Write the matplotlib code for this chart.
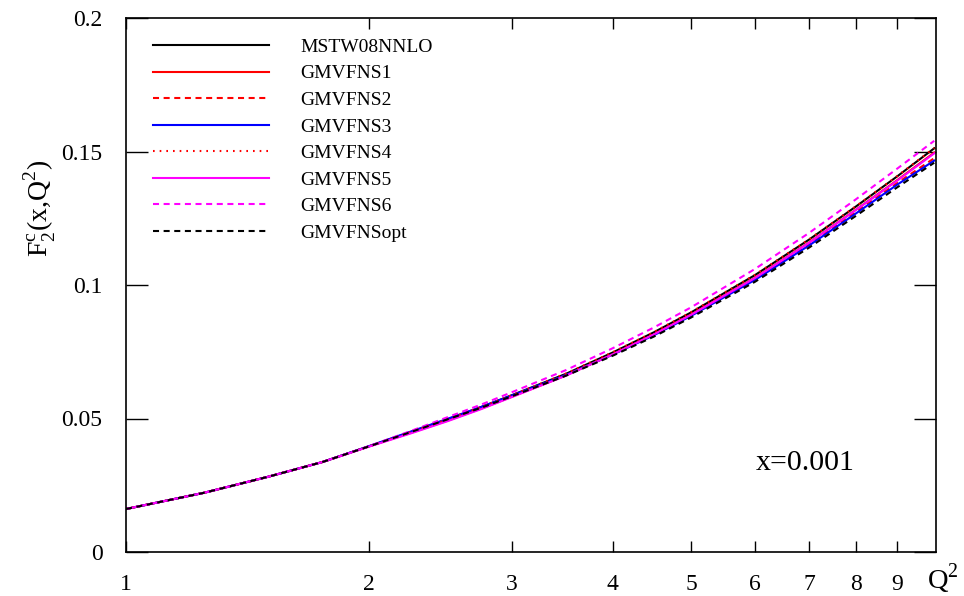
import numpy as np
import matplotlib
matplotlib.use('Agg')
import matplotlib.pyplot as plt
from matplotlib.ticker import FixedLocator, NullLocator

plt.rcParams['font.family'] = ['Liberation Serif', 'DejaVu Serif']
plt.rcParams['mathtext.fontset'] = 'custom'
plt.rcParams['mathtext.rm'] = 'Liberation Serif'

# Q^2 grid (GeV^2) and F2c values, x = 0.001
q2 = [1.0, 1.25, 1.5, 1.75, 2.0, 2.25, 2.5, 2.75, 3.0, 3.5, 4.0, 4.5, 5.0, 6.0, 7.0, 8.0, 9.0, 10.0]

mstw = [0.0161, 0.0222, 0.0282, 0.0337, 0.0396, 0.0449, 0.0497, 0.0543, 0.0587, 0.0667, 0.0747, 0.0823, 0.0897, 0.1037, 0.1170, 0.1294, 0.1407, 0.1512]
gmvfns1 = [0.0161, 0.0222, 0.0282, 0.0337, 0.0396, 0.0446, 0.0492, 0.0537, 0.0581, 0.0661, 0.0740, 0.0815, 0.0889, 0.1027, 0.1159, 0.1282, 0.1393, 0.1496]
gmvfns2 = [0.0161, 0.0222, 0.0282, 0.0337, 0.0396, 0.0448, 0.0495, 0.0540, 0.0584, 0.0663, 0.0740, 0.0814, 0.0886, 0.1022, 0.1152, 0.1273, 0.1382, 0.1475]
gmvfns3 = [0.0161, 0.0222, 0.0282, 0.0337, 0.0397, 0.0451, 0.0499, 0.0543, 0.0586, 0.0663, 0.0739, 0.0812, 0.0884, 0.1019, 0.1148, 0.1268, 0.1376, 0.1466]
gmvfns4 = [0.0161, 0.0222, 0.0282, 0.0337, 0.0396, 0.0449, 0.0497, 0.0543, 0.0587, 0.0668, 0.0748, 0.0824, 0.0898, 0.1038, 0.1171, 0.1295, 0.1408, 0.1513]
gmvfns5 = [0.0161, 0.0222, 0.0282, 0.0337, 0.0395, 0.0444, 0.0490, 0.0535, 0.0580, 0.0660, 0.0740, 0.0815, 0.0888, 0.1026, 0.1158, 0.1281, 0.1391, 0.1493]
gmvfns6 = [0.0161, 0.0222, 0.0282, 0.0337, 0.0397, 0.0453, 0.0505, 0.0552, 0.0598, 0.0681, 0.0763, 0.0841, 0.0916, 0.1060, 0.1195, 0.1321, 0.1436, 0.1540]
gmvfns_opt = [0.0161, 0.0222, 0.0282, 0.0337, 0.0396, 0.0449, 0.0497, 0.0540, 0.0583, 0.0660, 0.0735, 0.0807, 0.0878, 0.1012, 0.1140, 0.1259, 0.1366, 0.1458]

labels = ['MSTW08NNLO', 'GMVFNS1', 'GMVFNS2', 'GMVFNS3', 'GMVFNS4', 'GMVFNS5', 'GMVFNS6', 'GMVFNSopt']
series = [mstw, gmvfns1, gmvfns2, gmvfns3, gmvfns4, gmvfns5, gmvfns6, gmvfns_opt]
colors = ['black', 'red', 'red', 'blue', 'red', 'magenta', 'magenta', 'black']
dash = (0, (2.9, 2.2))
dots = (0, (0.8, 2.4))
styles = ['-', '-', dash, '-', dots, '-', dash, dash]

x_ticks = [1, 2, 3, 4, 5, 6, 7, 8, 9]
y_ticks = [0, 0.05, 0.1, 0.15, 0.2]
y_ticklabels = ['0', '0.05', '0.1', '0.15', '0.2']

fig = plt.figure(figsize=(9.64, 5.96), dpi=100)
ax = fig.add_axes([126 / 964, 1 - 552 / 596, 810 / 964, 534 / 596])

for vals, lab, c, ls in zip(series, labels, colors, styles):
    ax.plot(q2, vals, color=c, linestyle=ls, linewidth=1.5, label=lab)

ax.set_xscale('log')
ax.set_xlim(1, 10.05)
ax.set_ylim(0, 0.2)
ax.xaxis.set_major_locator(FixedLocator(x_ticks))
ax.xaxis.set_minor_locator(NullLocator())
ax.set_xticklabels([str(t) for t in x_ticks])
ax.set_yticks(y_ticks)
ax.set_yticklabels(y_ticklabels)
ax.tick_params(axis='x', direction='in', top=True, length=8, width=1, pad=16, labelsize=17)
ax.tick_params(axis='y', direction='in', right=True, length=16, width=1, pad=17, labelsize=17)
for s in ax.spines.values():
    s.set_linewidth(1.2)

# axis titles placed where the original puts them
fig.text(40 / 964, 1 - 208 / 596, r'F$_{\rm 2}^{\rm c}$(x,Q$^{\rm 2}$)', fontsize=20,
         rotation=90, ha='center', va='center')
fig.text(927 / 964, 1 - 579 / 596, r'Q$^{\rm 2}$', fontsize=20.5, va='center', ha='left')
ax.text((756 - 126) / 810, (552 - 463) / 534, 'x=0.001', transform=ax.transAxes,
        fontsize=21.5, va='center', ha='left')

ax.legend(loc='upper left', bbox_to_anchor=(0.033, 0.962), frameon=False, fontsize=14,
          handlelength=5.98, handletextpad=1.6, labelspacing=0.46, borderpad=0, borderaxespad=0)

fig.savefig('out.png', dpi=100)
